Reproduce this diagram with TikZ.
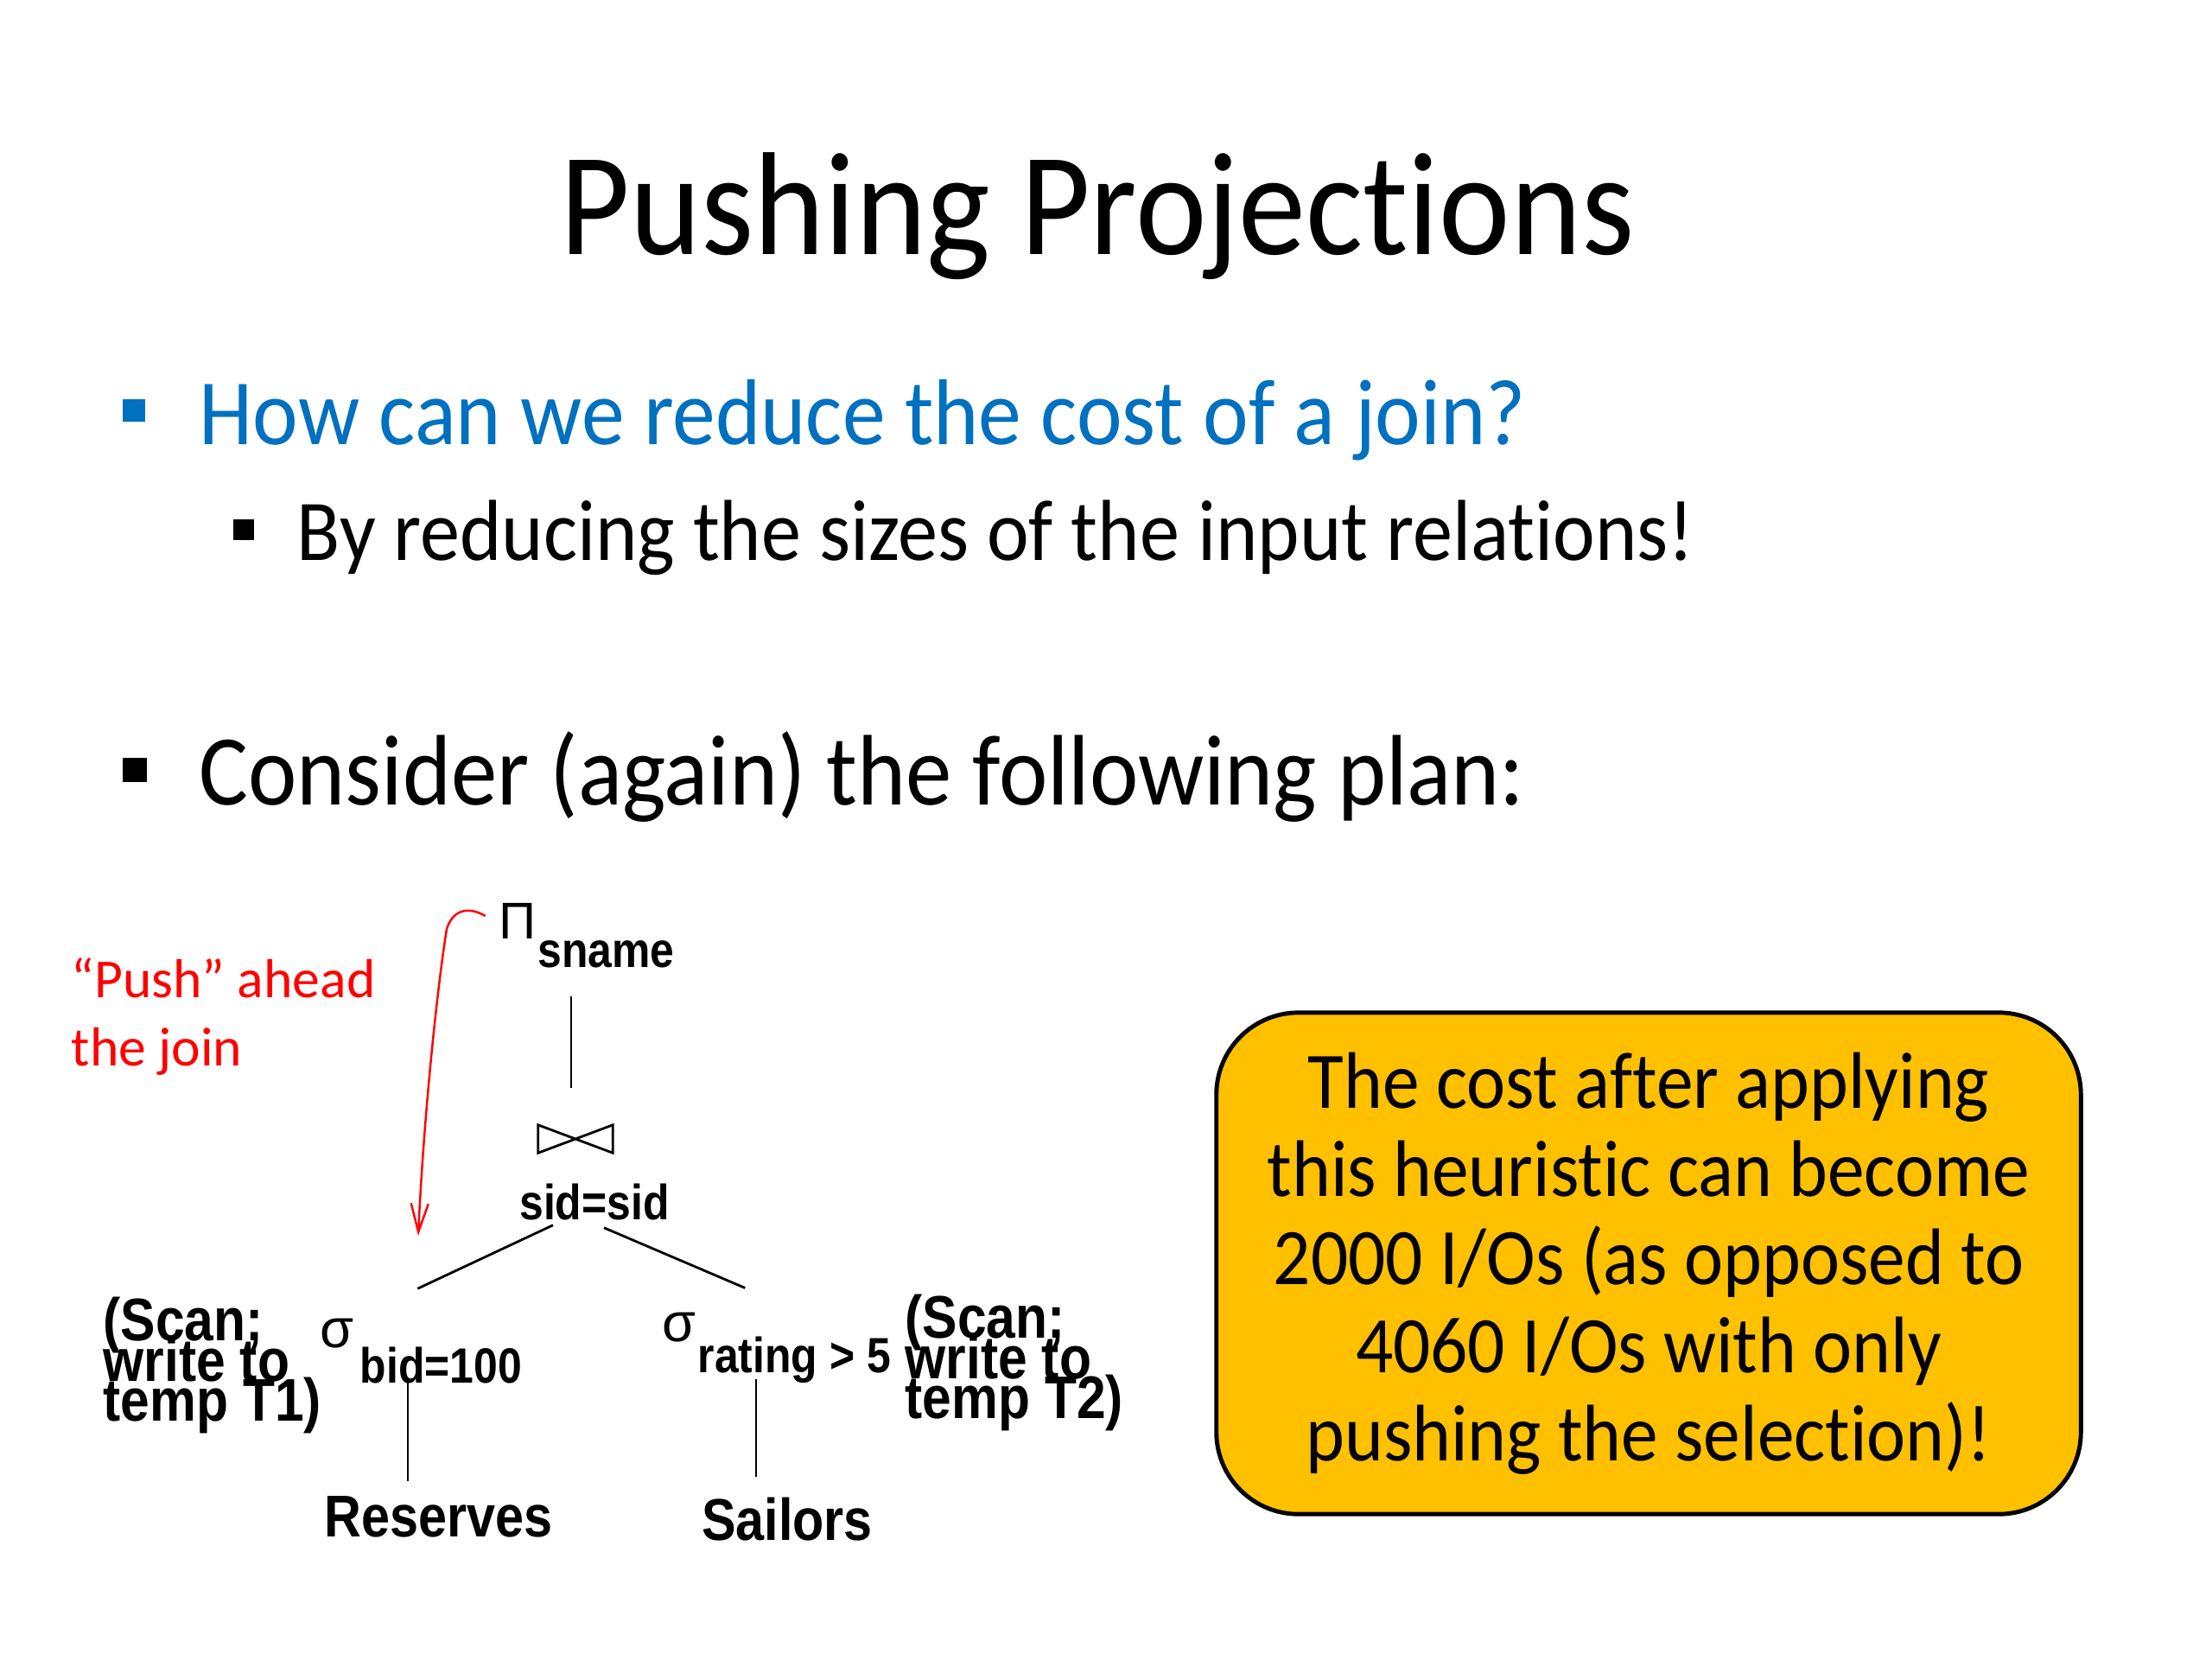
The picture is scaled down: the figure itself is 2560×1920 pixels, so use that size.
\documentclass[tikz,border=0pt]{standalone}
\usepackage{fontspec}
\setmainfont[Ligatures=NoCommon]{Carlito}
\newfontfamily\slidefont[Ligatures=NoCommon,FakeStretch=0.92]{Carlito}
\newfontfamily\treefont[FakeStretch=0.87]{Liberation Sans}
\newfontfamily\greekfont{Liberation Sans}
\newcommand\tightlines{\lineskiplimit-30pt\relax}
\usetikzlibrary{positioning,arrows.meta,calc}
\definecolor{slideblue}{RGB}{0,112,192}
\definecolor{pushred}{RGB}{255,0,0}
\definecolor{gold0}{RGB}{255,192,0}
\tikzset{
  treelab/.style={font=\treefont\bfseries\fontsize{16.3}{16}\selectfont, inner sep=0pt},
  scanlab/.style={font={\treefont\bfseries\fontsize{19.8}{13.3}\selectfont\tightlines}, inner sep=0pt, align=left},
  relname/.style={font=\treefont\bfseries\fontsize{19.4}{20}\selectfont, inner sep=0pt},
  greeklab/.style={font=\greekfont\fontsize{17}{17}\selectfont, inner sep=0pt},
  bulletsq/.style={fill=#1, inner sep=0pt},
  treeline/.style={line width=0.8pt},
}

\begin{document}
\begin{tikzpicture}[x=0.01cm,y=-0.01cm]
    \fill[white] (0,0) rectangle (2560,1920);
    \useasboundingbox (0,0) rectangle (2560,1920);
    % slide text
    \node[font=\slidefont\fontsize{48.3}{56}\selectfont,anchor=base,inner sep=0] (title) at (1270,294) {Pushing Projections};
    \node[bulletsq=slideblue,minimum size=0.26cm] (b1) at (155,475) {};
    \node[anchor=base west,text=slideblue,font=\slidefont\fontsize{30.8}{37}\selectfont,inner sep=0] (q1) at (230,514) {How can we reduce the cost of a join?};
    \node[bulletsq=black,minimum size=0.24cm] (b2) at (282,613) {};
    \node[anchor=base west,font=\slidefont\fontsize{28.5}{34}\selectfont,inner sep=0] (a1) at (343,648) {By reducing the sizes of the input relations!};
    \node[bulletsq=black,minimum size=0.28cm] (b3) at (156,891) {};
    \node[anchor=base west,font=\slidefont\fontsize{33}{38}\selectfont,inner sep=0] (q2) at (230,931) {Consider (again) the following plan:};
    % red note
    \node[anchor=base west,text=pushred,font=\fontsize{18.1}{22}\selectfont,inner sep=0] (pushA) at (82,1154) {“Push” ahead};
    \node[anchor=base west,text=pushred,font=\fontsize{18.1}{22}\selectfont,inner sep=0] (pushB) at (82,1233) {the join};
    % plan tree
    \node[greeklab] (pi) at (599,1066) {Π};
    \node[treelab,anchor=west] (sname) at (622,1104) {sname};
    \node[minimum width=0.85cm,minimum height=0.31cm,inner sep=0] (join) at (666,1318) {};
    \draw[line width=0.8pt] (join.north west)--(join.south east)--(join.north east)--(join.south west)--cycle;
    \node[treelab] (sidsid) at (688,1391) {sid=sid};
    \node[greeklab,font=\greekfont\fontsize{18}{18}\selectfont] (sigL) at (390,1543) {σ};
    \node[treelab,anchor=west] (bidL) at (416,1580) {bid=100};
    \node[scanlab,anchor=west] (scanL) at (119,1580) {(Scan;\\write to\\temp T1)};
    \node[greeklab,font=\greekfont\fontsize{18}{18}\selectfont] (sigR) at (786,1536) {σ};
    \node[treelab,anchor=west] (rating) at (807,1574) {rating > 5};
    \node[scanlab,anchor=west] (scanR) at (1047,1577) {(Scan;\\write to\\temp T2)};
    \node[relname] (res) at (508,1755) {Reserves};
    \node[relname] (sail) at (911,1758) {Sailors};
    \draw[treeline] ($(sname.south -| join.north)+(-5,33)$) -- ($(join.north)+(-5,-43)$);
    \draw[treeline] ($(sidsid.south)+(-48,5)$) -- ($(bidL.north)+(-27,-67)$);
    \draw[treeline] ($(sidsid.south)+(11,8)$) -- ($(rating.north)+(-57,-56)$);
    \draw[treeline] ($(res.north |- bidL.south)+(-36,-3)$) -- ($(res.north)+(-36,-17)$);
    \draw[treeline] ($(sail.north |- rating.base)+(-36,7)$) -- ($(sail.north)+(-36,-23)$);
    % push arrow
    \coordinate (pushend) at (484,1430);
    \draw[pushred,line width=0.7pt,-{Straight Barb[length=0.33cm,width=0.2cm]}] ($(pi.west)+(-15,-6)$) .. controls (545,1050) and (525,1050) .. (517,1075) .. controls (505,1150) and (490,1300) .. (pushend);
    % cost box
    \node[draw=black,line width=1.4pt,fill=gold0,rounded corners=0.95cm,minimum width=10.0cm,minimum height=5.8cm,align=center,font=\slidefont\fontsize{26.4}{29}\selectfont] (cost) at (1908,1462) {The cost after applying\\this heuristic can become\\2000 I/Os (as opposed to\\4060 I/Os with only\\pushing the selection)!};
\end{tikzpicture}
\end{document}
